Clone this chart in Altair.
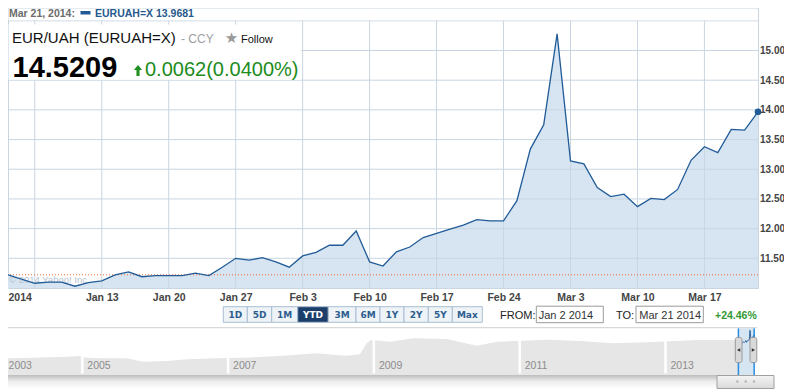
import altair as alt
import pandas as pd

# ---------------- data ----------------
symbol = "EURUAH=X"
pair_title = "EUR/UAH (EURUAH=X)"
asset_class = "- CCY"
follow_text = "Follow"
header_date = "Mar 21, 2014:"
last_price = "14.5209"
price_change = "0.0062(0.0400%)"
from_date = "Jan 2 2014"
to_date = "Mar 21 2014"
period_change = "+24.46%"
watermark = "\u00a9 2014 Yahoo! Inc."

trade_dates = pd.bdate_range("2014-01-02", "2014-03-21")
close_values = [11.22, 11.15, 11.08, 11.10, 11.10, 11.03, 11.09,
                11.12, 11.22, 11.27, 11.19, 11.21,
                11.21, 11.21, 11.25, 11.21, 11.35,
                11.50, 11.47, 11.51, 11.44, 11.35,
                11.54, 11.60, 11.72, 11.72, 11.96,
                11.44, 11.37, 11.61, 11.69, 11.85,
                11.92, 11.99, 12.06, 12.15, 12.13,
                12.13, 12.47, 13.34, 13.75, 15.28,
                13.14, 13.09, 12.69, 12.54, 12.58,
                12.37, 12.51, 12.49, 12.66, 13.15,
                13.38, 13.28, 13.67, 13.66, 13.9681]
reference_close = 11.2226

x_tick_labels = ["2014", "Jan 13", "Jan 20", "Jan 27", "Feb 3", "Feb 10",
                 "Feb 17", "Feb 24", "Mar 3", "Mar 10", "Mar 17"]
y_tick_values = [11.5, 12.0, 12.5, 13.0, 13.5, 14.0, 14.5, 15.0, 15.5]

range_buttons = ["1D", "5D", "1M", "YTD", "3M", "6M", "1Y", "2Y", "5Y", "Max"]
active_button = "YTD"

nav_years = [2003.92, 2004.32, 2004.79, 2004.97, 2005.02, 2005.24, 2005.61,
             2005.83, 2006.16, 2006.44, 2006.85, 2007.30, 2007.75, 2008.22,
             2008.45, 2008.63, 2008.81, 2008.90, 2008.96, 2009.22, 2009.54,
             2010.00, 2010.41, 2010.69, 2011.38, 2011.83, 2012.28, 2012.75,
             2013.43, 2013.88, 2014.00]
nav_values = [6.17, 6.37, 6.69, 6.91, 6.48, 6.17, 6.17,
              5.09, 5.30, 5.84, 6.17, 6.48, 7.04, 7.80,
              7.30, 7.04, 7.47, 11.05, 12.13, 11.59, 12.68,
              12.46, 10.29, 11.59, 12.24, 11.81, 11.05, 11.37,
              12.13, 12.13, 12.20]
nav_band_starts = [2005, 2007, 2009, 2011, 2013]
nav_label_years = [2003.92, 2005, 2007, 2009, 2011, 2013]
nav_labels = ["2003", "2005", "2007", "2009", "2011", "2013"]

# ---------------- layout (page pixel coordinates) ----------------
OX, OY = 8, 8          # page position of the chart origin (page margin)
W, H = 750, 280        # plot area: page x 8..758, y 8..288
SVG_W, SVG_H = 776, 381
def px(x):
    return x - OX
def py(y):
    return y - OY

BTN_EDGES = [223.3, 247.3, 271.7, 297.7, 328.3, 356.0, 380.0, 404.0, 428.3, 452.3, 482.3]

GRID = "#c9d6e1"
LINE = "#215b98"
FILL = "#d6e5f1"
one = pd.DataFrame({"k": [0]})

def txt(s, x, y, size, color, weight="normal", align="left",
        font="Liberation Sans", baseline="alphabetic"):
    return alt.Chart(one).mark_text(
        text=s, fontSize=size, color=color, fontWeight=weight, align=align,
        baseline=baseline, font=font
    ).encode(x=alt.value(px(x)), y=alt.value(py(y)))

def box(x0, x1, y0, y1, fill, stroke=None, sw=1.0, r=0):
    kw = dict(fill=fill, cornerRadius=r)
    if stroke is not None:
        kw.update(stroke=stroke, strokeWidth=sw)
    return alt.Chart(one).mark_rect(**kw).encode(
        x=alt.value(px(x0)), x2=alt.value(px(x1)),
        y=alt.value(py(y0)), y2=alt.value(py(y1)))

def hline(x0, x1, y, color, sw=1.0):
    return alt.Chart(one).mark_rule(color=color, strokeWidth=sw).encode(
        x=alt.value(px(x0)), x2=alt.value(px(x1)),
        y=alt.value(py(y)), y2=alt.value(py(y)))

# ---------------- main chart ----------------
n = len(close_values)
assert len(trade_dates) == n
df = pd.DataFrame({"i": list(range(n)), "v": close_values})
df["t"] = [2014 + (d.dayofyear - 1) / 365.0 for d in trade_dates]
monday_idx = [i for i, d in enumerate(trade_dates) if d.weekday() == 0]
label_idx = [0] + monday_idx[1:]
assert len(label_idx) == len(x_tick_labels)

labels_js = "[" + ",".join("'%s'" % s for s in x_tick_labels) + "]"
ticks_js = "[" + ",".join(str(i) for i in label_idx) + "]"

y_top = 11.0 + H / 59.375
x_scale = alt.Scale(domain=[0, n - 1], nice=False, zero=False)
y_scale = alt.Scale(domain=[11.0, y_top], nice=False, zero=False)
x_axis = alt.Axis(
    values=label_idx, labelExpr=f"{labels_js}[indexof({ticks_js}, datum.value)]",
    labelAlign={"condition": {"test": "datum.value == 0", "value": "left"},
                "value": "center"},
    title=None, grid=False, ticks=False, domain=False, labelPadding=4,
    labelOverlap=False, labelFlush=False, labelBound=False,
    labelFont="Liberation Sans", labelFontSize=10.5, labelFontWeight="bold",
    labelColor="#444444", zindex=1)
y_axis = alt.Axis(
    orient="right", values=y_tick_values,
    labelExpr="datum.value > 15.2 ? '' : format(datum.value, '.2f')",
    title=None, grid=False, ticks=False, domain=False, labelPadding=1.5,
    labelFont="Liberation Sans", labelFontSize=10, labelFontWeight="bold",
    labelColor="#444444", zindex=1)
X = alt.X("i:Q", scale=x_scale, axis=x_axis)
Y = alt.Y("v:Q", scale=y_scale, axis=y_axis)

base = alt.Chart(df)
area = base.mark_area(color=FILL, opacity=1, clip=True).encode(x=X, y=Y, y2=alt.value(H))
vgrid = alt.Chart(pd.DataFrame({"i": monday_idx})).mark_rule(
    color=GRID, strokeWidth=1).encode(x=X)
hgrid = alt.Chart(pd.DataFrame({"v": y_tick_values})).mark_rule(
    color=GRID, strokeWidth=1).encode(y=Y)
ref_rule = alt.Chart(pd.DataFrame({"v": [reference_close]})).mark_rule(
    color="#f26a2d", strokeWidth=1, strokeDash=[1, 2]).encode(y=Y)
line = base.mark_line(color=LINE, strokeWidth=1.3).encode(x=X, y=Y)
last_pt = base.transform_filter(alt.datum.i == n - 1).mark_point(
    filled=True, size=45, color=LINE, opacity=1).encode(x=X, y=Y)
wm = txt(watermark, 9, 283, 9.5, "#b5c3cf")
main = alt.layer(area, vgrid, hgrid, wm, ref_rule, line, last_pt)

# ---------------- navigator ----------------
nav_x = alt.Scale(domain=[2005, 2014], range=[px(82.3), px(738.4)], nice=False, zero=False)
nav_y = alt.Scale(domain=[1.5, 16.2], range=[py(372.7), py(327.5)], nice=False, zero=False)
NX = alt.X("t:Q", scale=nav_x, axis=None)
NY = alt.Y("v:Q", scale=nav_y, axis=None)
nav_df = pd.DataFrame({"t": nav_years, "v": nav_values})
sel_t0 = float(df["t"].min()) - 0.0027
sel_t1 = float(df["t"].max())

nav_area = alt.Chart(nav_df).mark_area(color="#e6e6e6", opacity=1).encode(
    x=NX, y=NY, y2=alt.value(py(372.7)))
nav_seps = alt.Chart(pd.DataFrame({"t": nav_band_starts})).mark_rule(
    color="white", strokeWidth=2.5).encode(x=NX, y=alt.value(py(329)), y2=alt.value(py(373.5)))
nav_text = alt.Chart(pd.DataFrame({"t": nav_label_years, "label": nav_labels})).mark_text(
    align="left", dx=5, baseline="alphabetic", fontSize=10.5, color="#8c8c8c",
    font="Liberation Sans").encode(x=NX, y=alt.value(py(368.5)), text="label:N")
sel_rect = alt.Chart(pd.DataFrame({"t": [sel_t0], "t1": [sel_t1]})).mark_rect(
    color="#d5e5f2", opacity=1).encode(
    x=NX, x2=alt.X2("t1:Q"), y=alt.value(py(328.3)), y2=alt.value(py(375)))
sel_lines = alt.Chart(pd.DataFrame({"t": [sel_t0, sel_t1]})).mark_rule(
    color="#2b8de0", strokeWidth=1.5).encode(x=NX, y=alt.value(py(328.3)), y2=alt.value(py(375)))
nav_line = alt.Chart(df).mark_line(color="#2a5f98", strokeWidth=1).encode(x=NX, y=NY)
nav = alt.layer(nav_area, nav_seps, nav_text, sel_rect, nav_line, sel_lines)

# ---------------- annotations ----------------
ann = []
ann.append(box(8.6, 757.4, 8.6, 20.3, "white"))
ann.append(box(8.6, 301, 24.5, 79.8, "white"))
ann.append(txt(header_date, 9, 16.5, 10.5, "#6b6b6b", "bold"))
ann.append(box(80.5, 90.5, 11, 14.5, "#1f5a96"))
ann.append(txt(f"{symbol} {close_values[-1]:.4f}", 95, 16.5, 10.5, "#27598c", "bold"))
ann.append(txt(pair_title, 12, 42.5, 15, "#111111"))
ann.append(txt(asset_class, 181, 42.5, 12, "#a0a0a0"))
ann.append(txt("\u2605", 231.5, 43, 15, "#9a9a9a", align="center", font="DejaVu Sans"))
ann.append(txt(follow_text, 241, 42.5, 11, "#111111"))
ann.append(txt(last_price, 12.5, 76.5, 29, "#000000", "bold"))
ann.append(alt.Chart(one).mark_point(
    shape="M0,-1L0.75,-0.1L0.28,-0.1L0.28,1L-0.28,1L-0.28,-0.1L-0.75,-0.1Z",
    filled=True, size=121, color="#1f8f1f", opacity=1).encode(
    x=alt.value(px(138)), y=alt.value(py(70.5))))
ann.append(txt(price_change, 145, 75.5, 20, "#1c8c1c"))

for k, lab in enumerate(range_buttons):
    x0, x1 = BTN_EDGES[k], BTN_EDGES[k + 1]
    active = lab == active_button
    ann.append(box(x0, x1, 306.7, 322.3, "#1c3e6a" if active else "#eef3f8", "#a9bdd0", 1))
    ann.append(txt(lab, (x0 + x1) / 2, 318.3, 9, "white" if active else "#2d5d8e", "bold",
                   align="center", font="DejaVu Sans"))

ann.append(txt("FROM:", 500, 319, 11, "#222222"))
ann.append(box(536.3, 603.3, 306.2, 322.7, "white", "#9a9a9a", 1))
ann.append(txt(from_date, 538.7, 319, 11, "#333333"))
ann.append(txt("TO:", 616, 319, 11, "#222222"))
ann.append(box(636, 703.3, 306.2, 322.7, "white", "#9a9a9a", 1))
ann.append(txt(to_date, 639.3, 319, 11, "#333333"))
ann.append(txt(period_change, 715, 319, 10.5, "#339933", "bold"))

ann.append(hline(8, 757, 327.7, "#d0d0d0"))
for (a, b, shp, cx) in [(735.3, 742.0, "triangle-left", 738.6), (750.0, 756.8, "triangle-right", 753.4)]:
    ann.append(box(a, b, 337.5, 362.5, "#d9d9d9", "#999999", 1, 2))
    ann.append(alt.Chart(one).mark_point(shape=shp, filled=True, size=14, color="#333333",
                                         opacity=1).encode(x=alt.value(px(cx)), y=alt.value(py(350))))
grad = alt.Gradient(gradient="linear",
                    stops=[alt.GradientStop(color="#bdbdbd", offset=0),
                           alt.GradientStop(color="#ececec", offset=0.45),
                           alt.GradientStop(color="#ffffff", offset=1)],
                    x1=0, x2=0, y1=0, y2=1)
ann.append(alt.Chart(one).mark_rect(fill=grad).encode(
    x=alt.value(px(8)), x2=alt.value(px(757)), y=alt.value(py(375)), y2=alt.value(py(389))))
thumb = alt.Gradient(gradient="linear",
                     stops=[alt.GradientStop(color="#f4f4f4", offset=0),
                            alt.GradientStop(color="#dadada", offset=1)],
                     x1=0, x2=0, y1=0, y2=1)
ann.append(alt.Chart(one).mark_rect(fill=thumb, stroke="#a0a0a0", strokeWidth=1).encode(
    x=alt.value(px(717)), x2=alt.value(px(774)), y=alt.value(py(375.5)), y2=alt.value(py(388.5))))
for cx in [737.3, 745.7, 754.0]:
    ann.append(alt.Chart(one).mark_point(filled=True, size=6, color="#b5b5b5", opacity=1).encode(
        x=alt.value(px(cx)), y=alt.value(py(381.5))))

chart = alt.layer(main, nav, *ann).resolve_scale(
    x="independent", y="independent"
).properties(
    width=W, height=H,
    autosize=alt.AutoSizeParams(type="none"),
    padding={"left": 0, "top": 0, "right": SVG_W - W, "bottom": SVG_H - H},
    background="white",
).configure_view(stroke=GRID, strokeWidth=1)

chart.save("out.html", embed_options={"renderer": "svg", "actions": False})
